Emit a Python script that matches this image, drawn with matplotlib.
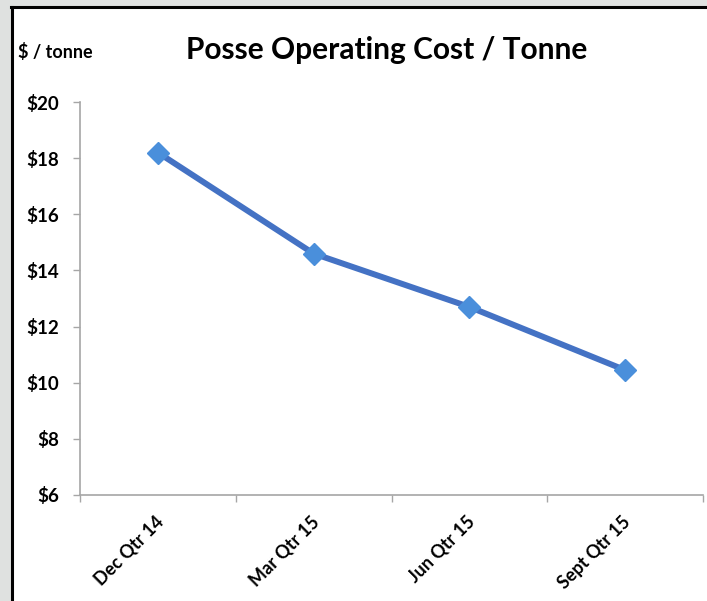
import matplotlib.pyplot as plt
from matplotlib.patches import Rectangle
from matplotlib.lines import Line2D
from matplotlib.transforms import ScaledTranslation

# data
quarters = ['Dec Qtr 14', 'Mar Qtr 15', 'Jun Qtr 15', 'Sept Qtr 15']
cost_per_tonne = [18.2, 14.6, 12.7, 10.45]
y_ticks = [6, 8, 10, 12, 14, 16, 18, 20]

plt.rcParams['font.family'] = ['Lato', 'DejaVu Sans']

fig = plt.figure(figsize=(7.07, 6.01), dpi=100)
fig.patch.set_facecolor('white')

# grey margin + black frame, like the slide snapshot
fig.patches.append(Rectangle((0, 0), 11 / 707, 1, transform=fig.transFigure,
                             facecolor='#dfe1e0', edgecolor='none', zorder=0))
fig.patches.append(Rectangle((0, 1 - 6 / 601), 1, 6 / 601, transform=fig.transFigure,
                             facecolor='#dfe1e0', edgecolor='none', zorder=0))
fig.lines.append(Line2D([12 / 707, 12 / 707], [0, 1 - 7 / 601], transform=fig.transFigure,
                        color='black', lw=2.2))
fig.lines.append(Line2D([11 / 707, 1], [1 - 7 / 601, 1 - 7 / 601], transform=fig.transFigure,
                        color='black', lw=2.2))

ax = fig.add_axes([80 / 707, 106 / 601, 623 / 707, 393 / 601])
x = list(range(len(quarters)))
ax.plot(x, cost_per_tonne, color='#4472c4', lw=4.3, solid_capstyle='round', zorder=2)
ax.plot(x, cost_per_tonne, linestyle='none', marker='D', markersize=11,
        markerfacecolor='#4a8fdb', markeredgecolor='#4a8fdb', zorder=3)

ax.set_xlim(-0.5, len(quarters) - 0.5)
ax.set_ylim(6, 20)
ax.set_yticks(y_ticks)
ax.set_yticklabels(['$%d' % v for v in y_ticks], fontsize=13.5, fontweight='bold')

# category labels at the centres, tick marks on the boundaries
ax.set_xticks(x)
ax.set_xticklabels(quarters, rotation=45, ha='right', rotation_mode='anchor',
                   fontsize=13, fontweight='bold')
ax.tick_params(axis='x', which='major', length=0, pad=13)
shift = ScaledTranslation(-3 / 100, 0, fig.dpi_scale_trans)
for lbl in ax.get_xticklabels():
    lbl.set_transform(lbl.get_transform() + shift)
ax.set_xticks([i - 0.5 for i in range(len(quarters) + 1)], minor=True)
ax.tick_params(axis='x', which='minor', length=5, color='#a6a6a6', width=1)
ax.tick_params(axis='y', length=5, color='#a6a6a6', width=1, pad=10)

for s in ['top', 'right']:
    ax.spines[s].set_visible(False)
for s in ['left', 'bottom']:
    ax.spines[s].set_color('#a6a6a6')
    ax.spines[s].set_linewidth(1.2)

fig.text(387 / 707, 1 - 50 / 601, 'Posse Operating Cost / Tonne', ha='center', va='center',
         fontsize=21.5, fontweight='bold')
fig.text(18 / 707, 1 - 52 / 601, '$ / tonne', ha='left', va='center',
         fontsize=13, fontweight='bold')

fig.savefig('out.png', dpi=100)
